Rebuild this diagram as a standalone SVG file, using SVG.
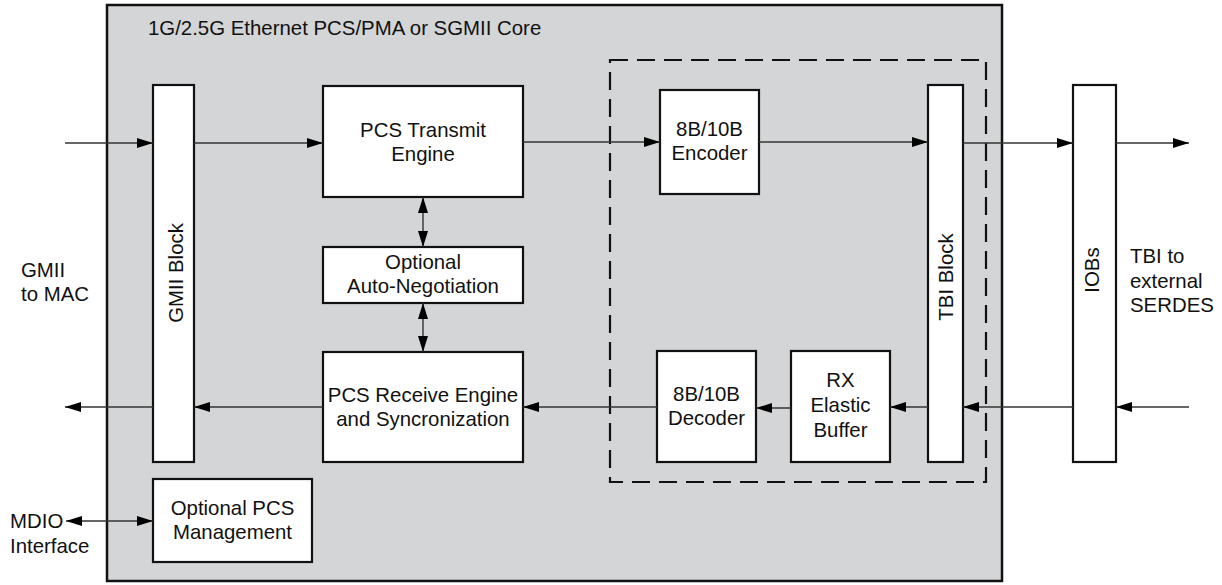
<svg xmlns="http://www.w3.org/2000/svg" width="1222" height="585" viewBox="0 0 1222 585">
<defs>
<style>
text{font-family:"Liberation Sans",Arial,sans-serif;font-size:20.4px;fill:#111}
.c{text-anchor:middle}
.box{fill:#fff;stroke:#111;stroke-width:2.2}
.ln{stroke:#333;stroke-width:1.4;fill:none}
</style>
<marker id="ah" viewBox="0 0 16 10" refX="16" refY="5" markerWidth="16" markerHeight="10" markerUnits="userSpaceOnUse" orient="auto-start-reverse">
<path d="M0,0 L16,5 L0,10 Z" fill="#000"/>
</marker>
</defs>
<rect width="1222" height="585" fill="#fff"/>
<g id="core">
<rect x="107" y="5" width="895" height="576" fill="#d4d5d7" stroke="#111" stroke-width="2.5"/>
<text x="148" y="35">1G/2.5G Ethernet PCS/PMA or SGMII Core</text>
</g>
<g id="dashed">
<rect x="610" y="60" width="376" height="422" fill="none" stroke="#111" stroke-width="2.2" stroke-dasharray="18 9"/>
</g>
<g id="gmii">
<rect class="box" x="153" y="85" width="41" height="377"/>
<text class="c" transform="translate(182.5,273) rotate(-90)">GMII Block</text>
</g>
<g id="pcs-tx">
<rect class="box" x="323" y="86" width="200" height="111"/>
<text class="c" x="423" y="137">PCS Transmit</text>
<text class="c" x="423" y="161">Engine</text>
</g>
<g id="autoneg">
<rect class="box" x="323" y="247" width="200" height="56"/>
<text class="c" x="423" y="269">Optional</text>
<text class="c" x="423" y="293">Auto-Negotiation</text>
</g>
<g id="pcs-rx">
<rect class="box" x="323" y="352" width="200" height="110"/>
<text class="c" x="423" y="402">PCS Receive Engine</text>
<text class="c" x="423" y="426">and Syncronization</text>
</g>
<g id="mgmt">
<rect class="box" x="153" y="479" width="159" height="83"/>
<text class="c" x="232.5" y="515">Optional PCS</text>
<text class="c" x="232.5" y="539">Management</text>
</g>
<g id="encoder">
<rect class="box" x="660" y="90" width="99" height="104"/>
<text class="c" x="709.5" y="136">8B/10B</text>
<text class="c" x="709.5" y="160">Encoder</text>
</g>
<g id="decoder">
<rect class="box" x="657" y="351" width="99" height="111"/>
<text class="c" x="706.5" y="401">8B/10B</text>
<text class="c" x="706.5" y="425">Decoder</text>
</g>
<g id="rxbuf">
<rect class="box" x="791" y="351" width="99" height="111"/>
<text class="c" x="840.5" y="387">RX</text>
<text class="c" x="840.5" y="412">Elastic</text>
<text class="c" x="840.5" y="437">Buffer</text>
</g>
<g id="tbi">
<rect class="box" x="928" y="85" width="35" height="377"/>
<text class="c" transform="translate(952.5,277) rotate(-90)">TBI Block</text>
</g>
<g id="iobs">
<rect class="box" x="1073" y="85" width="43" height="377"/>
<text class="c" transform="translate(1098.5,270) rotate(-90)">IOBs</text>
</g>
<g id="labels">
<text x="21" y="277">GMII</text>
<text x="21" y="301">to MAC</text>
<text x="1130" y="263">TBI to</text>
<text x="1130" y="288">external</text>
<text x="1130" y="312">SERDES</text>
<text x="10" y="528">MDIO</text>
<text x="10" y="553">Interface</text>
</g>
<g id="connectors" class="ln">
<line x1="65" y1="143" x2="153" y2="143" marker-end="url(#ah)"/>
<line x1="194" y1="143" x2="323" y2="143" marker-end="url(#ah)"/>
<line x1="523" y1="142" x2="660" y2="142" marker-end="url(#ah)"/>
<line x1="759" y1="142" x2="928" y2="142" marker-end="url(#ah)"/>
<line x1="963" y1="143" x2="1073" y2="143" marker-end="url(#ah)"/>
<line x1="1116" y1="143" x2="1189" y2="143" marker-end="url(#ah)"/>
<line x1="1189" y1="407" x2="1116" y2="407" marker-end="url(#ah)"/>
<line x1="1073" y1="407" x2="963" y2="407" marker-end="url(#ah)"/>
<line x1="928" y1="407" x2="890" y2="407" marker-end="url(#ah)"/>
<line x1="791" y1="408" x2="756" y2="408" marker-end="url(#ah)"/>
<line x1="657" y1="407" x2="523" y2="407" marker-end="url(#ah)"/>
<line x1="323" y1="407" x2="194" y2="407" marker-end="url(#ah)"/>
<line x1="153" y1="407" x2="65" y2="407" marker-end="url(#ah)"/>
<line x1="423" y1="197" x2="423" y2="247" marker-start="url(#ah)" marker-end="url(#ah)"/>
<line x1="423" y1="303" x2="423" y2="352" marker-start="url(#ah)" marker-end="url(#ah)"/>
<line x1="66" y1="521" x2="153" y2="521" marker-start="url(#ah)" marker-end="url(#ah)"/>
</g>
</svg>
